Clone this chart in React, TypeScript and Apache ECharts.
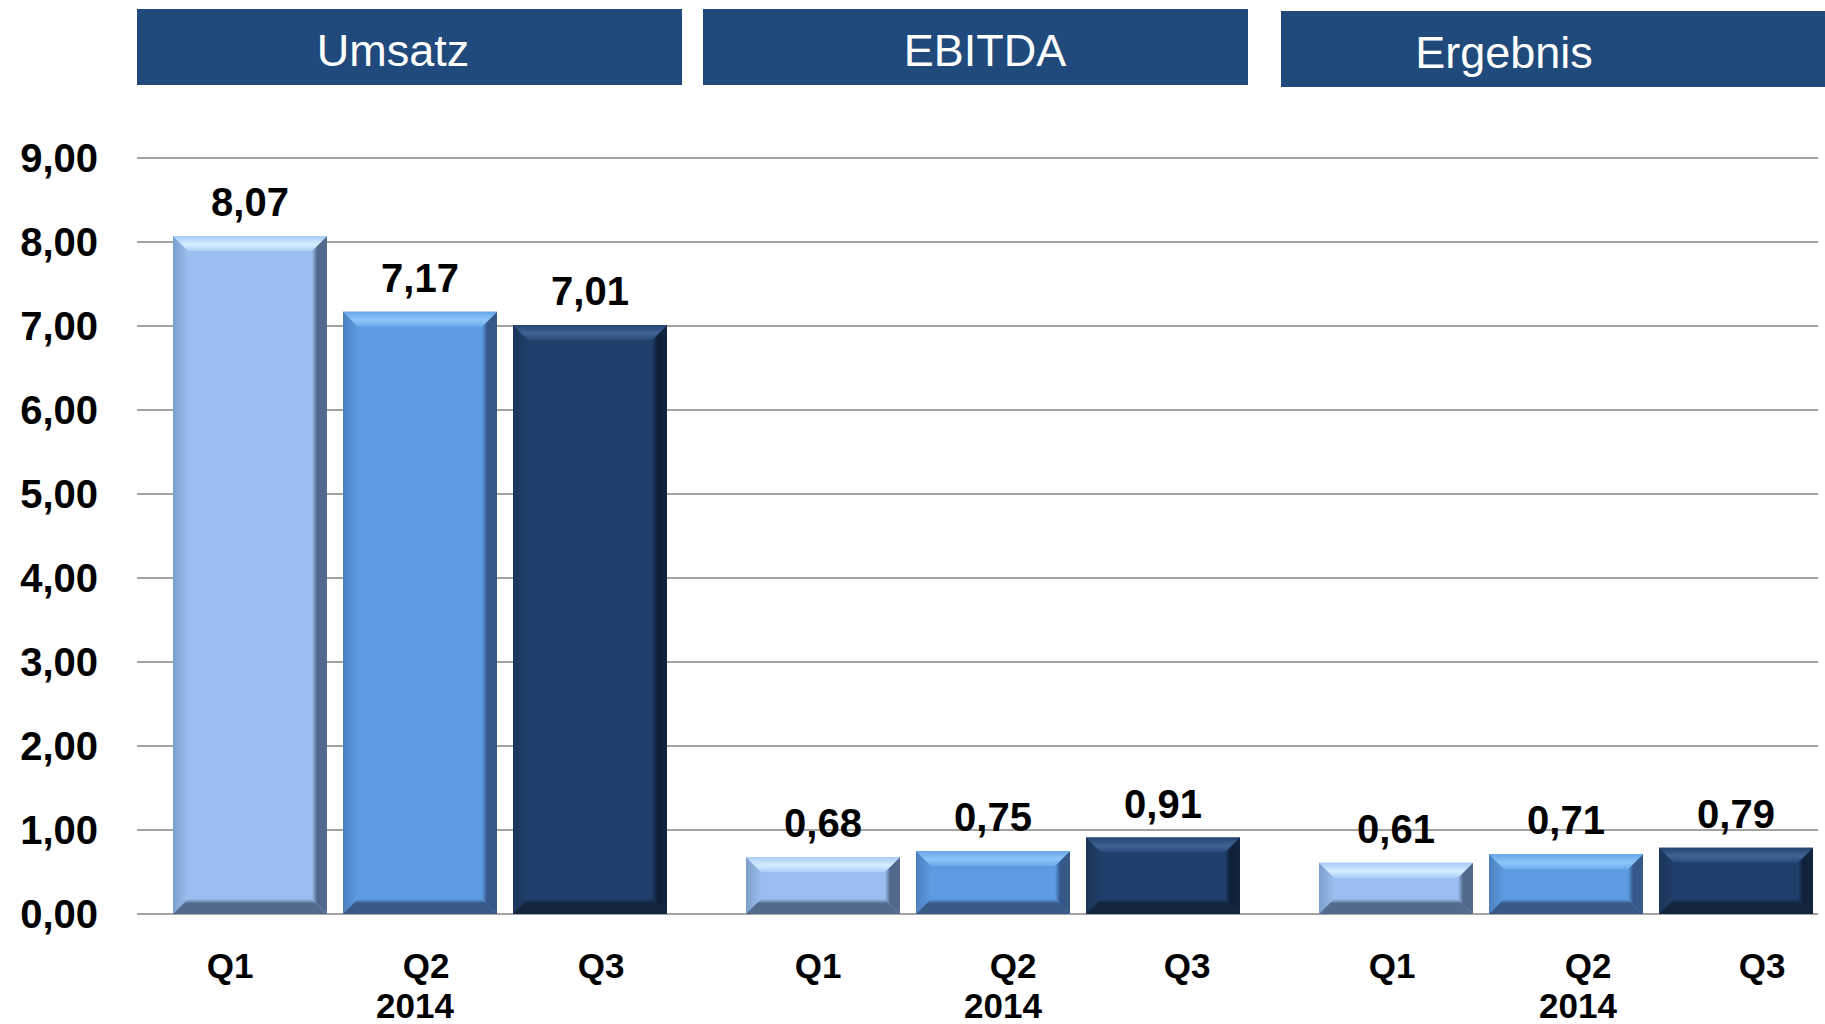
import React, { useEffect, useRef } from "react";
import * as echarts from "echarts";

const categories = ["Umsatz", "EBITDA", "Ergebnis"];
const quarters = ["Q1", "Q2", "Q3"];
const yearLabel = "2014";
const q1Values = [8.07, 0.68, 0.61];
const q2Values = [7.17, 0.75, 0.71];
const q3Values = [7.01, 0.91, 0.79];
const seriesValues = [q1Values, q2Values, q3Values];
const yMin = 0;
const yMax = 9;
const yInterval = 1;

const FONT = '"Liberation Sans", Arial, sans-serif';

// horizontal nudges (px) of the quarter labels and the year label under each bar
const quarterLabelShift = [1, 6, -10, 16, 20, 3, 17, 22, 5];
const yearLabelShift = [0, -5, 0, 0, 10, 0, 0, 12, 0];

const palettes = [
  { face: "#9ABEF0", topA: "#A9CBF5", topB: "#D3EEFF", topC: "#AFD0F6", left: "#7E9FCB", right: "#4F6889", bottom: "#546A8C" },
  { face: "#5C9BE1", topA: "#68A5EA", topB: "#8EC6F8", topC: "#6DA9EC", left: "#4C80BE", right: "#34568A", bottom: "#395A87" },
  { face: "#1F3E69", topA: "#23446F", topB: "#3F6393", topC: "#27497A", left: "#1A3559", right: "#0E1F37", bottom: "#13243D" },
];

const fmt = (v: number) => v.toFixed(2).replace(".", ",");

const CHART_W = 1880;
const CHART_H = 1080;
const GRID_TOP = 158;
const AXIS_Y = 914;
const GRID_BOTTOM = CHART_H - AXIS_Y;
const BAR_GRID_LEFT = 133.5;
const BAR_GRID_WIDTH = 1719;
const BAR_RATIO = 154 / 573;
const GAP_RATIO = 16 / 573;
const BEVEL = 15;

function makeRender(qIndex: number) {
  const pal = palettes[qIndex];
  return (params: any, api: any) => {
    const cat = api.value(0);
    const val = api.value(1);
    const top = api.coord([cat, val]);
    const base = api.coord([cat, 0]);
    const band = api.size([1, 0])[0];
    const bw = band * BAR_RATIO;
    const gap = band * GAP_RATIO;
    const cx = top[0] + (qIndex - 1) * (bw + gap);
    const x0 = cx - bw / 2;
    const x1 = cx + bw / 2;
    const y0 = top[1];
    const y1 = base[1];
    const b = Math.min(BEVEL, (y1 - y0) / 2, bw / 2);
    return {
      type: "group",
      children: [
        { type: "rect", shape: { x: x0, y: y0, width: bw, height: y1 - y0 }, style: { fill: pal.face } },
        {
          type: "polygon",
          shape: { points: [[x0, y0], [x0 + b, y0 + b], [x0 + b, y1 - b], [x0, y1]] },
          style: {
            fill: new echarts.graphic.LinearGradient(0, 0, 1, 0, [
              { offset: 0, color: pal.left },
              { offset: 1, color: pal.face },
            ]),
          },
        },
        {
          type: "polygon",
          shape: { points: [[x1, y0], [x1, y1], [x1 - b, y1 - b], [x1 - b, y0 + b]] },
          style: {
            fill: new echarts.graphic.LinearGradient(0, 0, 1, 0, [
              { offset: 0, color: pal.face },
              { offset: 0.35, color: pal.right },
              { offset: 1, color: pal.bottom },
            ]),
          },
        },
        {
          type: "polygon",
          shape: { points: [[x0, y1], [x1, y1], [x1 - b, y1 - b], [x0 + b, y1 - b]] },
          style: {
            fill: new echarts.graphic.LinearGradient(0, 0, 0, 1, [
              { offset: 0, color: pal.face },
              { offset: 0.3, color: pal.bottom },
              { offset: 1, color: pal.bottom },
            ]),
          },
        },
        {
          type: "polygon",
          shape: { points: [[x0, y0], [x1, y0], [x1 - b, y0 + b], [x0 + b, y0 + b]] },
          style: {
            fill: new echarts.graphic.LinearGradient(0, 0, 0, 1, [
              { offset: 0, color: pal.topA },
              { offset: 0.55, color: pal.topB },
              { offset: 1, color: pal.topC },
            ]),
          },
        },
        {
          type: "text",
          x: cx,
          y: y0 - 14,
          style: {
            text: fmt(val),
            fill: "#000000",
            font: `bold 40px ${FONT}`,
            align: "center",
            verticalAlign: "bottom",
          },
        },
      ],
    };
  };
}

const labelFont = { fontFamily: FONT, fontWeight: "bold", fontSize: 35, color: "#000000" };
const shiftPad = (d: number) => (d >= 0 ? [0, 0, 0, 2 * d] : [0, -2 * d, 0, 0]);

export default function App() {
  const ref = useRef<HTMLDivElement>(null);
  useEffect(() => {
    if (!ref.current) return;
    const chart = echarts.init(ref.current, null, { renderer: "svg" });

    const labelCats: string[] = [];
    categories.forEach(() => quarters.forEach((q) => labelCats.push(q)));

    const rich: any = {};
    labelCats.forEach((_, i) => {
      rich[`q${i}`] = { ...labelFont, lineHeight: 48, padding: shiftPad(quarterLabelShift[i]) };
      rich[`y${i}`] = { ...labelFont, lineHeight: 32, padding: shiftPad(yearLabelShift[i]) };
    });

    const headerRects = [
      { x: 137, y: 9, w: 545, h: 76, tx: 393 },
      { x: 703, y: 9, w: 545, h: 76, tx: 985 },
      { x: 1281, y: 11, w: 544, h: 76, tx: 1504 },
    ];
    const graphic: any[] = [];
    headerRects.forEach((h, i) => {
      graphic.push({
        type: "rect",
        shape: { x: h.x, y: h.y, width: h.w, height: h.h },
        style: { fill: "#204A7C" },
      });
      graphic.push({
        type: "text",
        x: h.tx,
        y: h.y + h.h / 2 + 3,
        style: {
          text: categories[i],
          fill: "#FFFFFF",
          font: `45px ${FONT}`,
          align: "center",
          verticalAlign: "middle",
        },
      });
    });

    const option: any = {
      animation: false,
      backgroundColor: "#FFFFFF",
      grid: [
        { left: 137, width: 1681, top: GRID_TOP, bottom: GRID_BOTTOM, outerBoundsMode: "none" },
        { left: BAR_GRID_LEFT, width: BAR_GRID_WIDTH, top: GRID_TOP, bottom: GRID_BOTTOM, outerBoundsMode: "none" },
        { left: BAR_GRID_LEFT, width: BAR_GRID_WIDTH, top: GRID_TOP, bottom: GRID_BOTTOM, outerBoundsMode: "none" },
      ],
      xAxis: [
        { gridIndex: 0, type: "value", min: 0, max: 1, show: false },
        { gridIndex: 1, type: "category", data: categories, show: false },
        {
          gridIndex: 2,
          type: "category",
          data: labelCats,
          axisLine: { show: false },
          axisTick: { show: false },
          axisLabel: {
            interval: 0,
            margin: 27,
            ...labelFont,
            rich,
            formatter: (v: string, i: number) =>
              v === "Q2" ? `{q${i}|${v}}\n{y${i}|${yearLabel}}` : `{q${i}|${v}}`,
          },
        },
      ],
      yAxis: [
        {
          gridIndex: 0,
          type: "value",
          min: yMin,
          max: yMax,
          interval: yInterval,
          axisLine: { show: false },
          axisTick: { show: false },
          splitLine: { lineStyle: { color: "#A3A3A3", width: 2 } },
          axisLabel: {
            margin: 39,
            color: "#000000",
            fontFamily: FONT,
            fontWeight: "bold",
            fontSize: 40,
            formatter: (v: number) => fmt(v),
          },
        },
        { gridIndex: 1, type: "value", min: yMin, max: yMax, show: false },
        { gridIndex: 2, type: "value", min: yMin, max: yMax, show: false },
      ],
      series: seriesValues.map((vals, qi) => ({
        type: "custom",
        name: quarters[qi],
        xAxisIndex: 1,
        yAxisIndex: 1,
        data: vals.map((v, ci) => [ci, v]),
        encode: { x: 0, y: 1 },
        renderItem: makeRender(qi),
      })),
      graphic,
    };
    chart.setOption(option);
    return () => chart.dispose();
  }, []);

  return (
    <div
      style={{ position: "absolute", left: 0, top: 0, width: 1825, height: 1024, overflow: "hidden" }}
    >
      <div ref={ref} style={{ width: CHART_W, height: CHART_H }} />
    </div>
  );
}
